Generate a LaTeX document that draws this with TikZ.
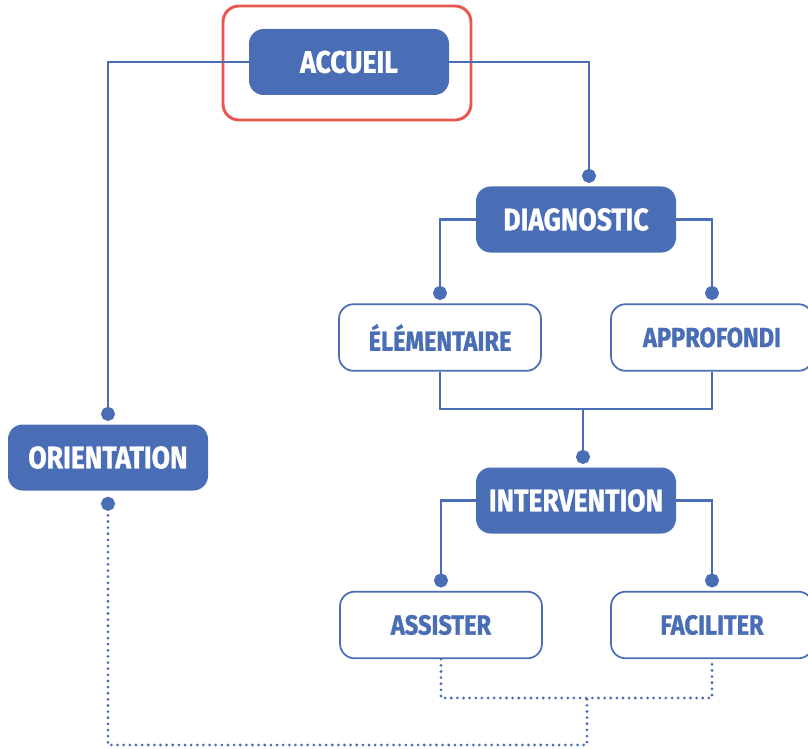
\documentclass[tikz,border=0pt]{standalone}
\usepackage{fontspec}
\setmainfont{Fira Sans}[FakeStretch=0.85, BoldFeatures={FakeBold=1}]
\usetikzlibrary{arrows.meta}
\definecolor{bleu}{HTML}{4A6EB5}
\definecolor{rouge}{HTML}{E8574F}

\begin{document}
\begin{tikzpicture}[
    x=0.75pt, y=-0.75pt,
    plein/.style={fill=bleu, text=white, rounded corners=11pt, minimum width=150pt,
        minimum height=49.5pt, font=\fontsize{23.4}{23.4}\selectfont\bfseries, inner sep=0pt},
    vide/.style={draw=bleu, line width=1.3pt, fill=white, text=bleu, rounded corners=11pt,
        minimum width=151.5pt, minimum height=50pt, font=\fontsize{20.8}{20.8}\selectfont\bfseries, inner sep=0pt},
    cadre/.style={draw=rouge, line width=2.2pt, rounded corners=12pt, minimum width=186pt,
        minimum height=85.5pt, inner sep=0pt},
    lien/.style={draw=bleu, line width=2.2pt, -{Circle[length=10.5pt]}, shorten >=2.5pt},
    simple/.style={draw=bleu, line width=2.2pt},
    pointille/.style={draw=bleu, line width=2.3pt, line cap=round, dash pattern=on 0pt off 4.6pt},
]
\useasboundingbox (0,0) rectangle (808,749);

% Nodes
\node[cadre] (cadre) at (347,63) {};
\node[plein] (accueil) at (349,62) {ACCUEIL};
\node[plein] (diagnostic) at (576,219.5) {DIAGNOSTIC};
\node[vide] (elementaire) at (440,337.5) {ÉLÉMENTAIRE};
\node[vide] (approfondi) at (712,337.5) {APPROFONDI};
\node[plein] (intervention) at (576,500.5) {INTERVENTION};
\node[vide] (assister) at (441,625) {ASSISTER};
\node[vide] (faciliter) at (712,625) {FACILITER};
\node[plein] (orientation) at (108,457.5) {ORIENTATION};

\coordinate (entree) at (589,0);
\coordinate (fusion) at (583,409);
\coordinate (jonction) at (587,698);
\coordinate (bas) at (587,745);

% Edges
\draw[lien] (accueil.west) -| (orientation.north);
\draw[lien] (accueil.east) -| (entree |- diagnostic.north);
\draw[lien] (diagnostic.west) -| (elementaire.north);
\draw[lien] (diagnostic.east) -| (approfondi.north);
\draw[simple] (elementaire.south) |- (fusion) -| (approfondi.south);
\draw[lien] (fusion) -- (fusion |- intervention.north);
\draw[lien] (intervention.west) -| (assister.north);
\draw[lien] (intervention.east) -| (faciliter.north);
\draw[pointille] (assister.south) |- (jonction) -| (faciliter.south);
\draw[pointille, {Circle[length=10.5pt]}-, shorten <=4.5pt] (orientation.south) |- (bas) -- (jonction);

\end{tikzpicture}
\end{document}
